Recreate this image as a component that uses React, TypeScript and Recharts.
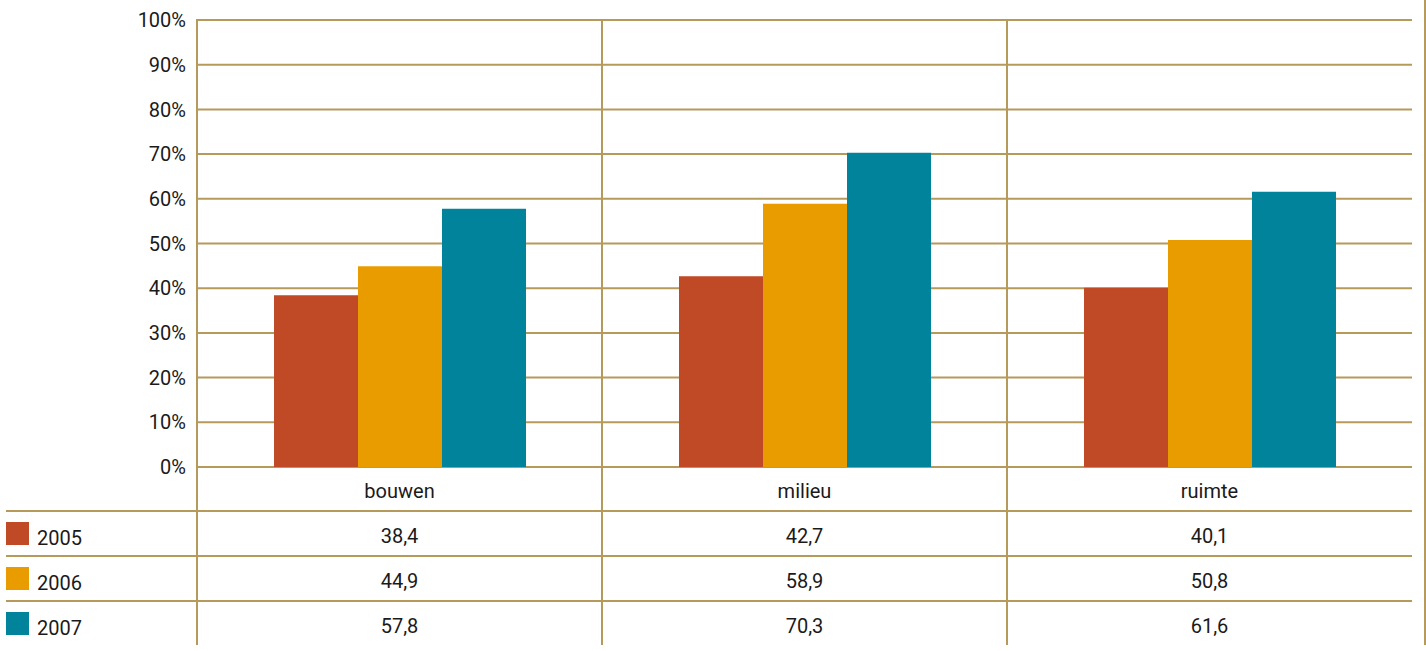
import React from 'react';
import { BarChart, Bar, XAxis, YAxis, CartesianGrid, Customized } from 'recharts';

const CATEGORIES = ['bouwen', 'milieu', 'ruimte'];
const YEARS = ['2005', '2006', '2007'];
const V2005 = [38.4, 42.7, 40.1];
const V2006 = [44.9, 58.9, 50.8];
const V2007 = [57.8, 70.3, 61.6];
const Y_TICKS = [0, 10, 20, 30, 40, 50, 60, 70, 80, 90, 100];
const COLORS = ['#c04926', '#e89c00', '#00839b'];
const SERIES = [V2005, V2006, V2007];

const data = CATEGORIES.map((c, i) => ({
  name: c,
  y2005: V2005[i],
  y2006: V2006[i],
  y2007: V2007[i],
}));

const W = 1426;
const H = 651;
const PLOT_LEFT = 197;
const PLOT_RIGHT = 1412;
const PLOT_TOP = 20;
const PLOT_BOTTOM = 467;
const BAND = (PLOT_RIGHT - PLOT_LEFT) / CATEGORIES.length;
const LINE = '#b59a5c';
const TEXT = '#1a1a1a';
const FONT = 'Roboto, sans-serif';
const ROW_LINES = [511, 556, 601];
const ROW_BASE = [543, 588, 633];
const TABLE_BOTTOM = 645;

const fmt = (v: number) => v.toFixed(1).replace('.', ',');

const XTick = (props: any) => {
  const { x, payload } = props;
  const i = payload.index;
  return (
    <g>
      <text x={x} y={498} textAnchor="middle" fontSize={20} fill={TEXT} fontFamily={FONT}>
        {payload.value}
      </text>
      {SERIES.map((s, k) => (
        <text key={k} x={x} y={ROW_BASE[k]} textAnchor="middle" fontSize={20} fill={TEXT} fontFamily={FONT}>
          {fmt(s[i])}
        </text>
      ))}
    </g>
  );
};

const Table = () => (
  <g>
    {CATEGORIES.map((c, i) => (
      <line key={'v' + i} x1={PLOT_LEFT + i * BAND} x2={PLOT_LEFT + i * BAND} y1={PLOT_TOP - 1} y2={TABLE_BOTTOM} stroke={LINE} strokeWidth={2} />
    ))}
    <line x1={W - 1} x2={W - 1} y1={0} y2={TABLE_BOTTOM} stroke={LINE} strokeWidth={2} />
    {ROW_LINES.map((y, i) => (
      <line key={'h' + i} x1={6} x2={PLOT_RIGHT} y1={y} y2={y} stroke={LINE} strokeWidth={2} />
    ))}
    {YEARS.map((yr, k) => (
      <g key={yr}>
        <rect x={6} y={ROW_LINES[k] + 11} width={23} height={23} fill={COLORS[k]} />
        <text x={37} y={ROW_BASE[k] + 2} fontSize={20} fill={TEXT} fontFamily={FONT}>
          {yr}
        </text>
      </g>
    ))}
  </g>
);

export default function App() {
  return (
    <div style={{ position: 'absolute', left: 0, top: 0, width: W, height: H, background: '#fff' }}>
      <BarChart
        width={W}
        height={H}
        data={data}
        margin={{ top: PLOT_TOP, right: W - PLOT_RIGHT, bottom: 0, left: 0 }}
        barSize={84}
        barGap={0}
      >
        <CartesianGrid horizontal vertical={false} stroke={LINE} strokeWidth={2} />
        <XAxis
          dataKey="name"
          height={H - PLOT_BOTTOM}
          axisLine={false}
          tickLine={false}
          interval={0}
          tick={<XTick />}
        />
        <YAxis
          width={PLOT_LEFT}
          domain={[0, 100]}
          ticks={Y_TICKS}
          interval={0}
          axisLine={false}
          tickLine={false}
          tickSize={0}
          tickMargin={11}
          tickFormatter={(v: number) => v + '%'}
          tick={{ fontSize: 20, fill: TEXT, fontFamily: FONT }}
        />
        <Customized component={<Table />} />
        <Bar dataKey="y2005" fill={COLORS[0]} isAnimationActive={false} />
        <Bar dataKey="y2006" fill={COLORS[1]} isAnimationActive={false} />
        <Bar dataKey="y2007" fill={COLORS[2]} isAnimationActive={false} />
      </BarChart>
    </div>
  );
}
